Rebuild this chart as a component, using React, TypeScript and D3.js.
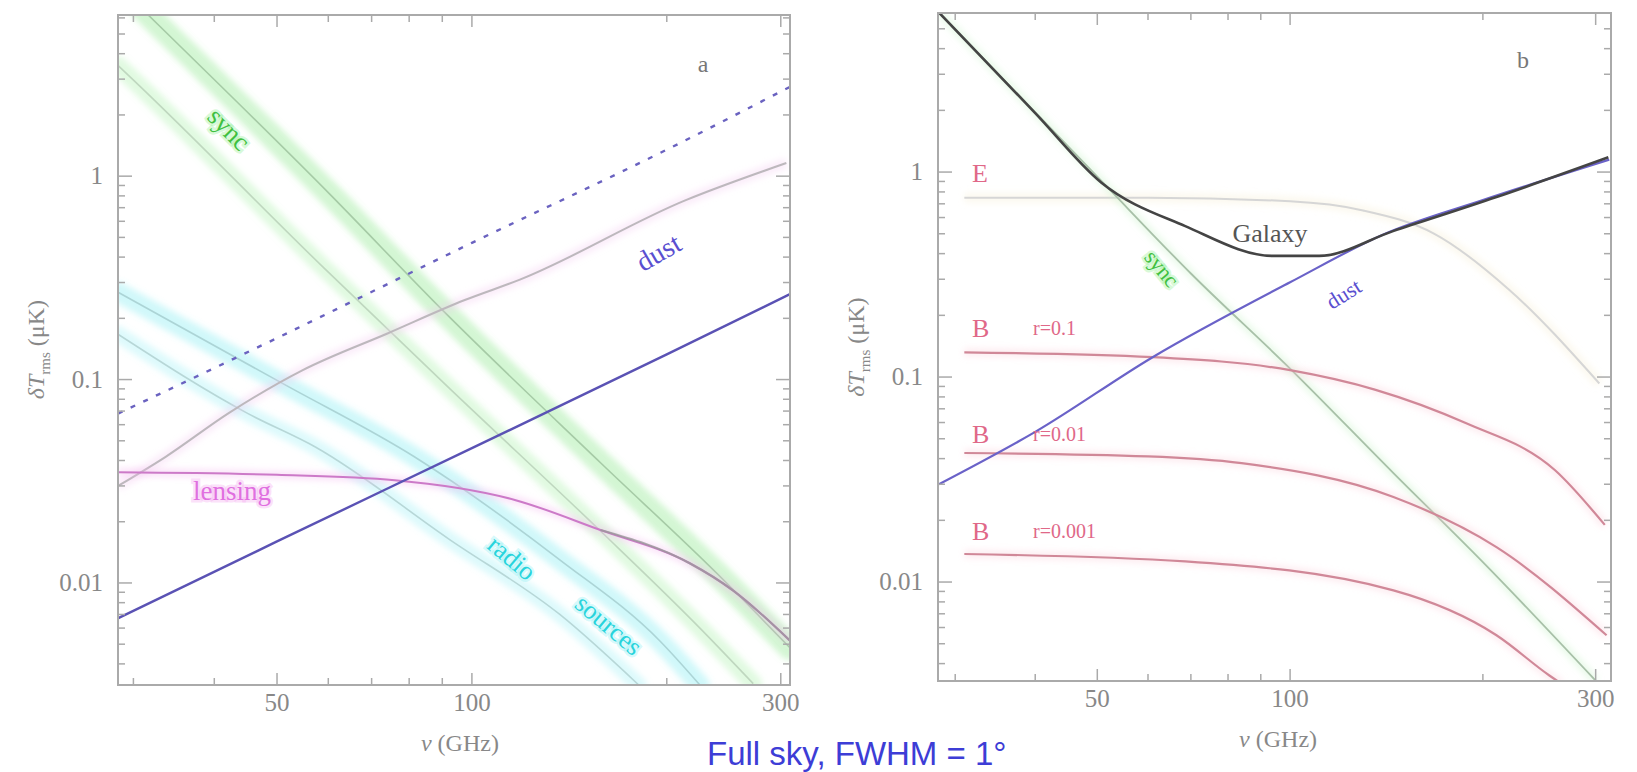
import React, { useEffect, useRef } from "react";
import * as d3 from "d3";

// tick labels on both panels
const xTickValues = [50, 100, 300];
const yTickValues = [0.01, 0.1, 1];

// ---- panel a : foregrounds (frequency in GHz, rms in uK)
const syncHiNu = [31, 33.8, 60, 90, 158, 240, 310];
const syncHiVal = [6.6, 5.04, 0.83, 0.22, 0.039, 0.011, 0.0048];
const syncLoNu = [28.4, 29.7, 58.9, 92.5, 158, 225, 272];
const syncLoVal = [3.5, 3.06, 0.357, 0.09, 0.018, 0.006, 0.0032];
const radioHiNu = [28.4, 50.9, 81.6, 136.7, 195, 225];
const radioHiVal = [0.269, 0.096, 0.0416, 0.013, 0.0052, 0.00315];
const radioLoNu = [28.4, 45.1, 57.3, 92.5, 136.7, 181];
const radioLoVal = [0.167, 0.068, 0.0466, 0.0163, 0.007, 0.00315];
const dustNu = [28.4, 50, 100, 200, 310];
const dustVal = [0.0067, 0.016, 0.046, 0.133, 0.263];
const dustHiVal = [0.068, 0.16, 0.47, 1.35, 2.75];
const lensNu = [28.4, 50, 76, 116.5, 158, 217, 253, 310];
const lensVal = [0.035, 0.034, 0.032, 0.0256, 0.0182, 0.0125, 0.0092, 0.0052];
const totalANu = [28.4, 33.6, 42.1, 54.7, 74.2, 97.5, 118.6, 214, 306];
const totalAVal = [0.03, 0.0416, 0.0684, 0.111, 0.169, 0.246, 0.31, 0.762, 1.16];

// ---- panel b : galaxy vs CMB
const galaxyNu = [28.3, 40, 50.7, 68.6, 94, 111, 144.8, 210, 314];
const galaxyVal = [6.0, 1.94, 0.89, 0.545, 0.39, 0.39, 0.515, 0.755, 1.18];
const dustBNu = [28.3, 40, 61, 100, 140.7, 200, 315];
const dustBVal = [0.03, 0.054, 0.125, 0.29, 0.5, 0.73, 1.15];
const syncBNu = [28.3, 50, 70, 100, 145, 200, 300];
const syncBVal = [6.0, 0.95, 0.32, 0.11, 0.034, 0.0125, 0.0033];
const eNu = [31, 60, 100, 130, 168, 220, 304];
const eVal = [0.75, 0.75, 0.72, 0.65, 0.5, 0.266, 0.093];
const b1Nu = [31, 61, 100, 136, 188, 259, 310];
const b1Val = [0.132, 0.125, 0.108, 0.0866, 0.0596, 0.0352, 0.019];
const b2Nu = [31, 60, 84, 145, 210, 312];
const b2Val = [0.0426, 0.041, 0.038, 0.026, 0.0148, 0.0055];
const b3Nu = [31, 68.6, 145, 210, 254, 265];
const b3Val = [0.0137, 0.0126, 0.0091, 0.0055, 0.0035, 0.0032];

const serif = "'Liberation Serif', 'DejaVu Serif', serif";

function pairs(nu: number[], val: number[]): [number, number][] {
  return nu.map((n, i) => [n, val[i]]);
}

function drawPanel(svg: any, id: string, left: number, right: number, top: number, bottom: number,
  xDom: [number, number], yDom: [number, number]) {
  const x = d3.scaleLog().domain(xDom).range([left, right]);
  const y = d3.scaleLog().domain(yDom).range([bottom, top]);

  svg.append("clipPath").attr("id", "clip" + id)
    .append("rect").attr("x", left).attr("y", top)
    .attr("width", right - left).attr("height", bottom - top);

  const g = svg.append("g");
  const plot = g.append("g").attr("clip-path", "url(#clip" + id + ")");

  // frame
  g.append("rect").attr("x", left).attr("y", top)
    .attr("width", right - left).attr("height", bottom - top)
    .attr("fill", "none").attr("stroke", "#aaa").attr("stroke-width", 2);

  // ticks on all four sides
  const xt = x.ticks();
  xt.forEach((t: number) => {
    const len = xTickValues.indexOf(t) >= 0 ? 12 : 7;
    g.append("line").attr("x1", x(t)).attr("x2", x(t)).attr("y1", bottom).attr("y2", bottom - len)
      .attr("stroke", "#aaa").attr("stroke-width", 1.5);
    g.append("line").attr("x1", x(t)).attr("x2", x(t)).attr("y1", top).attr("y2", top + len)
      .attr("stroke", "#aaa").attr("stroke-width", 1.5);
  });
  const yt = y.ticks();
  yt.forEach((t: number) => {
    const major = Math.abs(Math.log10(t) - Math.round(Math.log10(t))) < 1e-6;
    const len = major ? 14 : 7;
    g.append("line").attr("x1", left).attr("x2", left + len).attr("y1", y(t)).attr("y2", y(t))
      .attr("stroke", "#aaa").attr("stroke-width", 1.5);
    g.append("line").attr("x1", right).attr("x2", right - len).attr("y1", y(t)).attr("y2", y(t))
      .attr("stroke", "#aaa").attr("stroke-width", 1.5);
  });

  // tick labels
  xTickValues.forEach((t) => {
    g.append("text").attr("x", x(t)).attr("y", bottom + 26).attr("text-anchor", "middle")
      .attr("font-family", serif).attr("font-size", 25).attr("fill", "#888").text(String(t));
  });
  yTickValues.forEach((t) => {
    g.append("text").attr("x", left - 15).attr("y", y(t) + 8).attr("text-anchor", "end")
      .attr("font-family", serif).attr("font-size", 25).attr("fill", "#888").text(String(t));
  });

  // axis titles
  const xl = g.append("text").attr("x", x(100) - 12).attr("y", bottom + 66).attr("text-anchor", "middle")
    .attr("font-family", serif).attr("font-size", 24).attr("fill", "#888");
  xl.append("tspan").attr("font-style", "italic").text("\u03bd");
  xl.append("tspan").text(" (GHz)");

  const yl = g.append("text")
    .attr("transform", "translate(" + (left - 74) + "," + (y(0.1) - 30) + ") rotate(-90)")
    .attr("text-anchor", "middle").attr("font-family", serif).attr("font-size", 24).attr("fill", "#888");
  yl.append("tspan").attr("font-style", "italic").text("\u03b4T");
  yl.append("tspan").attr("font-size", 15).attr("dy", 6).text("rms");
  yl.append("tspan").attr("dy", -6).text(" (\u03bcK)");

  const line = d3.line<[number, number]>()
    .x((d) => x(d[0])).y((d) => y(d[1])).curve(d3.curveMonotoneX);

  return { x, y, g, plot, line };
}

function band(p: any, line: any, data: [number, number][], color: string, width: number, center: string) {
  p.plot.append("path").datum(data).attr("d", line).attr("fill", "none")
    .attr("stroke", color).attr("stroke-width", width).attr("stroke-opacity", 0.3)
    .attr("stroke-linecap", "round").attr("filter", "url(#soft)");
  p.plot.append("path").datum(data).attr("d", line).attr("fill", "none")
    .attr("stroke", center).attr("stroke-width", 1.6).attr("stroke-opacity", 0.7);
}

function curve(p: any, data: [number, number][], color: string, width: number, dash?: string, opacity = 1) {
  const path = p.plot.append("path").datum(data).attr("d", p.line).attr("fill", "none")
    .attr("stroke", color).attr("stroke-width", width).attr("stroke-opacity", opacity);
  if (dash) path.attr("stroke-dasharray", dash);
  return path;
}

function label(g: any, tx: number, ty: number, text: string, color: string, size: number, rot = 0, glow?: string) {
  const t = g.append("text").attr("transform", "translate(" + tx + "," + ty + ") rotate(" + rot + ")")
    .attr("text-anchor", "middle").attr("dominant-baseline", "middle")
    .attr("font-family", serif).attr("font-size", size).attr("fill", color).text(text);
  if (glow) {
    t.attr("stroke", glow).attr("stroke-width", 5).attr("stroke-opacity", 0.35)
      .attr("paint-order", "stroke");
  }
  return t;
}

export default function App() {
  const ref = useRef<SVGSVGElement>(null);

  useEffect(() => {
    document.body.style.margin = "0";
    const svg = d3.select(ref.current);
    svg.selectAll("*").remove();

    const defs = svg.append("defs");
    defs.append("filter").attr("id", "soft").attr("x", "-20%").attr("y", "-20%")
      .attr("width", "140%").attr("height", "140%")
      .append("feGaussianBlur").attr("stdDeviation", 3);

    // ---------- panel a
    const a = drawPanel(svg, "a", 118, 790, 15, 685, [28.4, 310], [0.00315, 6.2]);
    band(a, a.line, pairs(syncLoNu, syncLoVal), "#9aee9a", 18, "#b0c8b0");
    band(a, a.line, pairs(syncHiNu, syncHiVal), "#6ee06e", 24, "#93b893");
    band(a, a.line, pairs(radioLoNu, radioLoVal), "#8ef0f4", 16, "#a6c8c8");
    band(a, a.line, pairs(radioHiNu, radioHiVal), "#66e8f0", 20, "#9cc4c6");
    curve(a, pairs(totalANu, totalAVal), "#f4c8f0", 10, undefined, 0.35).attr("filter", "url(#soft)");
    curve(a, pairs(totalANu, totalAVal), "#bdb8bd", 2);
    curve(a, pairs(lensNu, lensVal), "#f6b8f0", 8, undefined, 0.4).attr("filter", "url(#soft)");
    curve(a, pairs(lensNu, lensVal), "#cc7ac8", 2);
    curve(a, pairs(lensNu.slice(4), lensVal.slice(4)), "#9a9a9a", 2, undefined, 0.8);
    curve(a, pairs(dustNu, dustHiVal), "#6a62c0", 2.4, "5,9");
    curve(a, pairs(dustNu, dustVal), "#5a52b4", 2.4);

    label(a.g, 703, 66, "a", "#777", 24);
    label(a.g, 660, 255, "dust", "#5a4fd0", 28, -30);
    label(a.g, 232, 494, "lensing", "#e070e0", 27, 0, "#f4a8f0");
    label(a.g, 227, 131, "sync", "#40c040", 26, 45, "#90ee90");
    label(a.g, 510, 560, "radio", "#28d4dc", 26, 40, "#90f0f4");
    label(a.g, 607, 627, "sources", "#28d4dc", 26, 40, "#90f0f4");

    // ---------- panel b
    const b = drawPanel(svg, "b", 938, 1611, 13, 681, [28.2, 317], [0.00329, 5.97]);
    curve(b, pairs(eNu, eVal), "#f6eed0", 10, undefined, 0.35).attr("filter", "url(#soft)");
    curve(b, pairs(eNu, eVal), "#d6d6d6", 2);
    curve(b, pairs(syncBNu, syncBVal), "#c0f0c0", 8, undefined, 0.35).attr("filter", "url(#soft)");
    curve(b, pairs(syncBNu, syncBVal), "#a8c0a8", 1.8);
    [
      pairs(b1Nu, b1Val),
      pairs(b2Nu, b2Val),
      pairs(b3Nu, b3Val),
    ].forEach((d) => {
      curve(b, d, "#f8c8d4", 8, undefined, 0.35).attr("filter", "url(#soft)");
      curve(b, d, "#d08898", 2.2);
    });
    curve(b, pairs(dustBNu, dustBVal), "#6a62c8", 2.2);
    curve(b, pairs(galaxyNu, galaxyVal), "#444", 2.6);

    label(b.g, 1523, 62, "b", "#777", 24);
    label(b.g, 1270, 236, "Galaxy", "#555", 26);
    label(b.g, 1345, 296, "dust", "#5a4fd0", 22, -32);
    label(b.g, 1160, 270, "sync", "#40c040", 22, 50, "#90ee90");

    const redText = "#e06888";
    const lab = (ty: number, main: string, sub?: string) => {
      b.g.append("text").attr("x", 972).attr("y", ty + 9).attr("font-family", serif)
        .attr("font-size", 26).attr("fill", redText).text(main);
      if (sub) {
        b.g.append("text").attr("x", 1033).attr("y", ty + 7).attr("font-family", serif)
          .attr("font-size", 20).attr("fill", redText).text(sub);
      }
    };
    lab(173, "E");
    lab(328, "B", "r=0.1");
    lab(434, "B", "r=0.01");
    lab(531, "B", "r=0.001");

    // caption
    svg.append("text").attr("x", 707).attr("y", 765)
      .attr("font-family", "'Liberation Sans', Arial, sans-serif").attr("font-size", 33)
      .attr("fill", "#3d3dd6").text("Full sky, FWHM = 1\u00b0");
  }, []);

  return (
    <svg ref={ref} width={1637} height={772} style={{ display: "block", background: "#fff" }} />
  );
}
